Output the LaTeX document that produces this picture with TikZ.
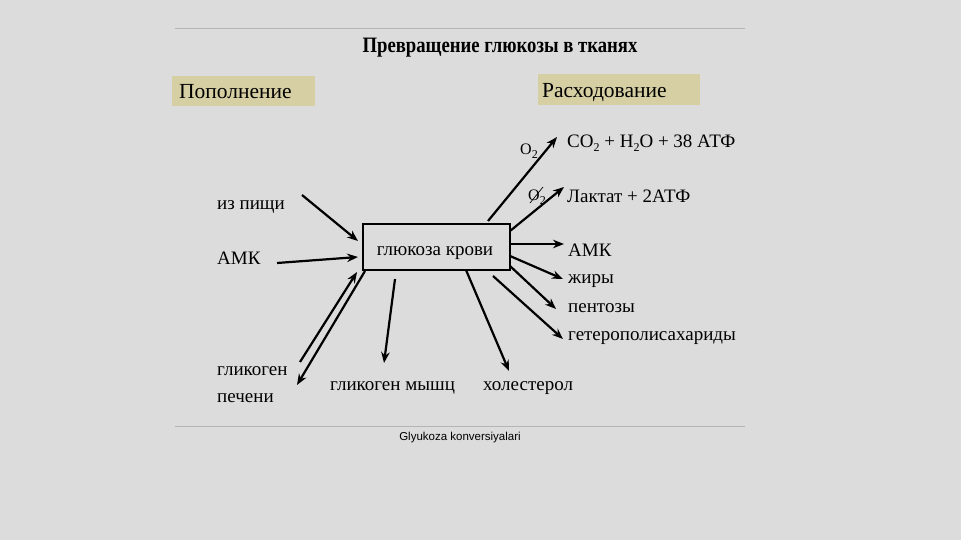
\documentclass[tikz,border=0pt]{standalone}
\usepackage{fontspec}
\usepackage{graphicx}
\setmainfont{Liberation Serif}
\setsansfont{Liberation Sans}
\usetikzlibrary{arrows.meta}
\definecolor{bg}{HTML}{DCDCDC}
\definecolor{hl}{HTML}{D6CFA4}
\definecolor{rule}{HTML}{B4B4B4}
\newcommand{\lowtwo}{\raisebox{-3.5pt}{\fontsize{12}{12}\selectfont 2}}
\tikzset{
  lbl/.style={inner sep=0pt, anchor=base west, font=\fontsize{19}{20}\selectfont},
  arr/.style={line width=2.2pt, -{Stealth[length=11pt,width=8.5pt]}},
}
\begin{document}
\begin{tikzpicture}[x=1pt,y=-1pt]
\fill[bg] (0,0) rectangle (961,540);
\useasboundingbox (0,0) rectangle (961,540);
\draw[rule, line width=0.8pt] (175,28) -- (745,28);
\draw[rule, line width=0.8pt] (175,426) -- (745,426);
\node[inner sep=0pt, anchor=base] (title) at (500,53) {\scalebox{0.85}[1]{\fontsize{22}{22}\selectfont\bfseries Превращение глюкозы в тканях}};
\fill[hl] (172,76) rectangle (315,106);
\fill[hl] (538,74) rectangle (700,105);
\node[lbl, font=\fontsize{21.5}{22}\selectfont] (pop) at (179,99) {Пополнение};
\node[lbl, font=\fontsize{21.5}{22}\selectfont] (rash) at (542,98) {Расходование};
\node[draw, line width=1.3pt, minimum width=147pt, minimum height=46pt, inner sep=0pt] (box) at (436.5,247) {};
\node[lbl, anchor=base] (boxt) at (435,255) {глюкоза крови};
\node[lbl] (pishi) at (217,210) {из пищи};
\node[lbl] (amkl) at (217,265) {АМК};
\node[lbl] (co2) at (567,148) {CO\lowtwo{} + H\lowtwo{}O + 38 АТФ};
\node[lbl] (lakt) at (567,203) {Лактат + 2АТФ};
\node[lbl] (amkr) at (568,256) {АМК};
\node[lbl] (zhir) at (568,283) {жиры};
\node[lbl] (pent) at (568,312) {пентозы};
\node[lbl] (getero) at (568,340) {гетерополисахариды};
\node[lbl] (glp1) at (217,375) {гликоген};
\node[lbl] (glp2) at (217,402) {печени};
\node[lbl] (glm) at (330,390) {гликоген мышц};
\node[lbl] (hol) at (483,390) {холестерол};
\node[lbl, font=\fontsize{16}{16}\selectfont] (o2a) at (520,155) {O\lowtwo};
\node[lbl, font=\fontsize{16}{16}\selectfont] (o2b) at (528,201) {O\lowtwo};
\draw[line width=0.7pt] (530,203) -- (543,187);
\node[inner sep=0pt, font=\sffamily\fontsize{11.5}{12}\selectfont] (cap) at (460,438) {Glyukoza konversiyalari};
% coordinates
\coordinate (a1s) at (302,195); \coordinate (a1e) at (358,241);
\coordinate (a2s) at (277,263); \coordinate (a2e) at (358,257);
\coordinate (a3s) at (300,362); \coordinate (a3e) at (357,272);
\coordinate (a4s) at (365,271); \coordinate (a4e) at (297,385);
\coordinate (a5s) at (395,279); \coordinate (a5e) at (384,363);
\coordinate (a6s) at (466,270); \coordinate (a6e) at (509,371);
\coordinate (a7s) at (493,276); \coordinate (a7e) at (563,339);
\coordinate (a8s) at (510,266); \coordinate (a8e) at (556,309);
\coordinate (a9s) at (510,256); \coordinate (a9e) at (563,279);
\coordinate (a10s) at (510,244); \coordinate (a10e) at (564,244);
\coordinate (a11s) at (510,231); \coordinate (a11e) at (564,187);
\coordinate (a12s) at (488,221); \coordinate (a12e) at (557,137);
\draw[arr] (a1s) -- (a1e);
\draw[arr] (a2s) -- (a2e);
\draw[arr] (a3s) -- (a3e);
\draw[arr] (a4s) -- (a4e);
\draw[arr] (a5s) -- (a5e);
\draw[arr] (a6s) -- (a6e);
\draw[arr] (a7s) -- (a7e);
\draw[arr] (a8s) -- (a8e);
\draw[arr] (a9s) -- (a9e);
\draw[arr] (a10s) -- (a10e);
\draw[arr] (a11s) -- (a11e);
\draw[arr] (a12s) -- (a12e);
\end{tikzpicture}
\end{document}
